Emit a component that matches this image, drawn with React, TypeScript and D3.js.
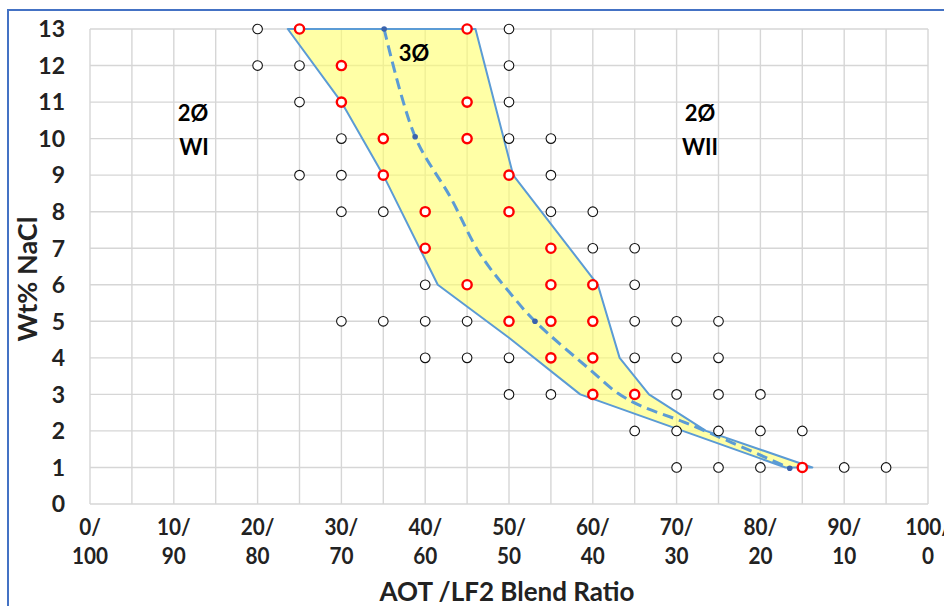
import React from "react";
import * as d3 from "d3";

// ---- data ----
const xTickValues = [0, 10, 20, 30, 40, 50, 60, 70, 80, 90, 100];
const xTickTop = ["0/", "10/", "20/", "30/", "40/", "50/", "60/", "70/", "80/", "90/", "100/"];
const xTickBottom = ["100", "90", "80", "70", "60", "50", "40", "30", "20", "10", "0"];
const yTickValues = [0, 1, 2, 3, 4, 5, 6, 7, 8, 9, 10, 11, 12, 13];

// two-phase (black open circles)
const blackPoints: [number, number][] = [
  [20, 13], [50, 13],
  [20, 12], [25, 12], [50, 12],
  [25, 11], [50, 11],
  [30, 10], [50, 10], [55, 10],
  [25, 9], [30, 9], [55, 9],
  [30, 8], [35, 8], [55, 8], [60, 8],
  [60, 7], [65, 7],
  [40, 6], [65, 6],
  [30, 5], [35, 5], [40, 5], [45, 5], [65, 5], [70, 5], [75, 5],
  [40, 4], [45, 4], [50, 4], [65, 4], [70, 4], [75, 4],
  [50, 3], [55, 3], [70, 3], [75, 3], [80, 3],
  [65, 2], [70, 2], [75, 2], [80, 2], [85, 2],
  [70, 1], [75, 1], [80, 1], [90, 1], [95, 1],
];

// three-phase (red open circles)
const redPoints: [number, number][] = [
  [25, 13], [45, 13],
  [30, 12],
  [30, 11], [45, 11],
  [35, 10], [45, 10],
  [35, 9], [50, 9],
  [40, 8], [50, 8],
  [40, 7], [55, 7],
  [45, 6], [55, 6], [60, 6],
  [50, 5], [55, 5], [60, 5],
  [55, 4], [60, 4],
  [60, 3], [65, 3],
  [85, 1],
];

// three-phase region boundary
const regionBoundary: [number, number][] = [
  [23.6, 13], [46, 13], [50.5, 9], [60.6, 6], [63.2, 4], [66.7, 3], [73.5, 2], [86.2, 1],
  [83, 1], [58.5, 3], [50, 4.55], [41.5, 6], [35, 9], [30, 11],
];

// optimum (dashed) curve
const optimumCurve: [number, number][] = [
  [35.1, 13], [38.8, 10.05], [43, 8.4], [46.5, 6.86], [50.5, 5.67], [53.1, 5.0],
  [59.7, 3.67], [63, 3.03], [66, 2.66], [70.8, 2.25], [76.8, 1.66], [83.5, 0.98],
];
const optimumMarkers: [number, number][] = [[35.1, 13], [38.8, 10.05], [53.1, 5.0], [83.5, 0.98]];

const W = 944, H = 606;
const FONT = "Lato, 'Open Sans', sans-serif";

export default function App() {
  const x = d3.scaleLinear().domain([0, 100]).range([90, 928]);
  const y = d3.scaleLinear().domain([0, 13]).range([504, 29]);
  const vGrid = d3.range(0, 101, 5);

  const polyPath = d3.line<[number, number]>().x(d => x(d[0])).y(d => y(d[1]))(regionBoundary) + "Z";
  const dashPath = d3.line<[number, number]>().x(d => x(d[0])).y(d => y(d[1])).curve(d3.curveCatmullRom.alpha(0.5))(optimumCurve) || "";

  return (
    <svg width={W} height={H} style={{ position: "absolute", left: 0, top: 0, background: "#fff" }}>
      <rect x={0} y={0} width={W} height={H} fill="#fff" />
      {/* grid */}
      {yTickValues.map(v => (
        <line key={"h" + v} x1={x(0)} x2={x(100)} y1={y(v)} y2={y(v)} stroke="#d6d6d6" strokeWidth={1.4} />
      ))}
      {vGrid.map(v => (
        <line key={"v" + v} x1={x(v)} x2={x(v)} y1={y(0)} y2={y(13)} stroke="#d6d6d6" strokeWidth={1.4} />
      ))}
      {/* region */}
      <path d={polyPath} fill="#ffff70" fillOpacity={0.62} stroke="#5b9bd5" strokeWidth={2} strokeLinejoin="round" />
      {/* dashed optimum line */}
      <path d={dashPath} fill="none" stroke="#5b9bd5" strokeWidth={3} strokeDasharray="11 6" />
      {optimumMarkers.map((d, i) => (
        <circle key={"m" + i} cx={x(d[0])} cy={y(d[1])} r={2.8} fill="#3a63ad" />
      ))}
      {/* points */}
      {blackPoints.map((d, i) => (
        <circle key={"b" + i} cx={x(d[0])} cy={y(d[1])} r={4.8} fill="#fff" stroke="#111" strokeWidth={1.1} />
      ))}
      {redPoints.map((d, i) => (
        <circle key={"r" + i} cx={x(d[0])} cy={y(d[1])} r={4.6} fill="#fff" stroke="#ff0000" strokeWidth={2.4} />
      ))}
      {/* y tick labels */}
      {yTickValues.map(v => (
        <text key={"yt" + v} x={65} y={y(v)} dy="0.36em" textAnchor="end" fontFamily={FONT} fontWeight={700} fontSize={23} fill="#222">{v}</text>
      ))}
      {/* x tick labels */}
      {xTickValues.map((v, i) => (
        <g key={"xt" + v} transform={`translate(${x(v)},0)`}>
          <text transform="scale(0.9,1)" x={0} y={535} textAnchor="middle" fontFamily={FONT} fontWeight={700} fontSize={23} fill="#222">{xTickTop[i]}</text>
          <text transform="scale(0.9,1)" x={0} y={564} textAnchor="middle" fontFamily={FONT} fontWeight={700} fontSize={23} fill="#222">{xTickBottom[i]}</text>
        </g>
      ))}
      {/* axis titles */}
      <text x={507} y={601} textAnchor="middle" fontFamily={FONT} fontWeight={700} fontSize={26} fill="#222">AOT /LF2 Blend Ratio</text>
      <text transform={`translate(37,279) rotate(-90)`} textAnchor="middle" fontFamily={FONT} fontWeight={700} fontSize={27} fill="#222">Wt% NaCl</text>
      {/* annotations */}
      <text x={193} y={121} textAnchor="middle" fontFamily={FONT} fontWeight={700} fontSize={22} fill="#000">2Ø</text>
      <text x={194} y={155} textAnchor="middle" fontFamily={FONT} fontWeight={700} fontSize={22} fill="#000">WI</text>
      <text x={414} y={61} textAnchor="middle" fontFamily={FONT} fontWeight={700} fontSize={22} fill="#000">3Ø</text>
      <text x={700} y={121} textAnchor="middle" fontFamily={FONT} fontWeight={700} fontSize={22} fill="#000">2Ø</text>
      <text x={700} y={155} textAnchor="middle" fontFamily={FONT} fontWeight={700} fontSize={22} fill="#000">WII</text>
      {/* chart border */}
      <rect x={8} y={10} width={W + 20} height={H + 20} fill="none" stroke="#4472c4" strokeWidth={2} />
    </svg>
  );
}
